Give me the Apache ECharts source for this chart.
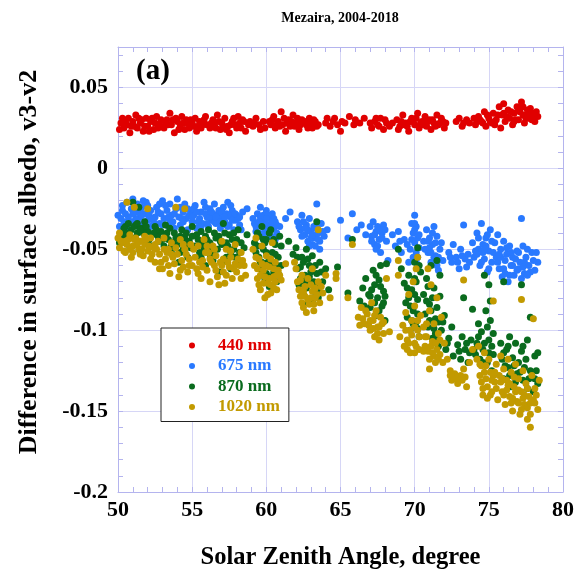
<!DOCTYPE html>
<html>
<head>
<meta charset="utf-8">
<script src="https://cdn.jsdelivr.net/npm/echarts@6/dist/echarts.min.js"></script>
<style>
  html, body { margin: 0; padding: 0; background: #fff; }
  #main { width: 577px; height: 575px; }
</style>
</head>
<body>
<div id="main"></div>
<script>
// Mezaira, 2004-2018 : v3 - v2 surface albedo difference vs solar zenith angle
var seriesNames = ["440 nm", "675 nm", "870 nm", "1020 nm"];
var xTicks = [50, 55, 60, 65, 70, 75, 80];
var yTicks = [-0.2, -0.15, -0.1, -0.05, 0, 0.05];

var nm440 = [
  [50.1,0.024],[50.3,0.031],[50.6,0.027],[50.8,0.022],[51.0,0.029],[51.2,0.033],[51.3,0.025],[51.5,0.028],[51.7,0.023],[51.9,0.031],
  [52.0,0.026],[52.2,0.029],[52.4,0.024],[52.6,0.032],[52.8,0.027],[53.1,0.025],[53.3,0.030],[53.5,0.034],[53.6,0.027],[53.8,0.022],
  [54.0,0.029],[54.2,0.026],[54.3,0.032],[54.5,0.024],[54.7,0.028],[54.9,0.030],[55.1,0.026],[55.3,0.023],[55.5,0.029],[55.7,0.027],
  [55.9,0.032],[56.2,0.025],[56.4,0.030],[56.5,0.027],[56.7,0.033],[56.9,0.024],[57.0,0.028],[57.2,0.031],[57.4,0.026],[57.5,0.022],
  [57.7,0.029],[57.9,0.027],[58.1,0.032],[58.3,0.025],[58.5,0.029],[58.8,0.027],[59.1,0.026],[59.3,0.031],[59.6,0.024],[59.8,0.029],
  [60.3,0.027],[60.5,0.032],[60.6,0.025],[60.8,0.029],[61.0,0.035],[61.1,0.027],[61.3,0.023],[61.5,0.030],[61.6,0.026],[61.8,0.033],
  [62.0,0.028],[62.2,0.024],[62.4,0.030],[62.7,0.027],[62.9,0.031],[63.1,0.025],[63.3,0.029],[63.5,0.027],[64.1,0.031],[64.3,0.026],
  [64.5,0.029],[64.8,0.027],[65.0,0.023],[65.3,0.028],[65.6,0.032],[65.9,0.027],[66.3,0.028],[66.6,0.031],[67.1,0.025],[67.3,0.029],
  [67.5,0.027],[67.7,0.031],[67.9,0.024],[68.1,0.028],[68.3,0.026],[68.8,0.030],[69.0,0.026],[69.2,0.033],[69.4,0.028],[69.6,0.023],
  [69.8,0.031],[70.0,0.027],[70.2,0.034],[70.3,0.025],[70.5,0.029],[70.7,0.032],[70.8,0.026],[71.0,0.030],[71.1,0.024],[71.3,0.028],
  [71.5,0.033],[71.6,0.027],[71.8,0.031],[72.0,0.025],[72.8,0.029],[73.0,0.031],[73.2,0.026],[73.5,0.030],[74.1,0.027],[74.3,0.032],
  [74.5,0.029],[74.7,0.035],[74.8,0.026],[75.0,0.031],[75.2,0.028],[75.3,0.034],[75.5,0.030],[75.7,0.038],[75.8,0.025],[75.9,0.033],
  [76.0,0.040],[76.1,0.029],[76.3,0.036],[76.4,0.031],[76.6,0.027],[76.7,0.034],[76.9,0.038],[77.0,0.030],[77.2,0.041],[77.3,0.033],
  [77.4,0.028],[77.6,0.036],[77.7,0.031],[77.9,0.034],[78.1,0.029],[78.3,0.032],
  [50.5,0.029],[51.1,0.026],[51.6,0.030],[52.1,0.023],[52.5,0.028],[53.4,0.027],[53.9,0.031],[54.4,0.028],[54.8,0.025],[55.2,0.031],
  [55.6,0.025],[56.3,0.028],[56.8,0.029],[57.3,0.024],[57.8,0.031],[58.2,0.028],[58.6,0.023],[60.4,0.030],[60.9,0.026],[61.2,0.031],
  [61.7,0.029],[62.1,0.031],[63.0,0.028],[67.4,0.031],[69.1,0.029],[69.5,0.026],[69.9,0.029],[70.6,0.027],[71.2,0.030],[71.7,0.028],
  [74.4,0.030],[74.9,0.033],[75.4,0.027],[76.2,0.032],[76.5,0.035],[76.8,0.030],[77.1,0.035],[77.5,0.031],[77.8,0.037],[78.0,0.033],
  [50.2,0.028],[50.4,0.025],[50.7,0.031],[50.9,0.026],[51.4,0.031],[51.8,0.026],[52.3,0.031],[52.7,0.025],[52.9,0.030],[53.2,0.028],
  [53.7,0.030],[54.1,0.024],[54.6,0.030],[55.0,0.028],[55.4,0.026],[55.8,0.030],[56.0,0.027],[56.6,0.025],[57.1,0.026],[57.6,0.027],
  [58.0,0.025],[58.4,0.030],[58.9,0.029],[59.2,0.028],[59.5,0.027],[59.9,0.025],[60.2,0.029],[60.7,0.027],[61.4,0.028],[61.9,0.026],
  [62.3,0.027],[62.6,0.029],[62.8,0.025],[63.2,0.030],[63.4,0.026],[64.0,0.028],[64.6,0.031],[65.1,0.029],[66.0,0.030],[67.0,0.028],
  [67.6,0.026],[68.0,0.030],[68.5,0.028],[68.9,0.024],[69.3,0.027],[69.7,0.029],[70.1,0.031],[70.4,0.028],[70.9,0.029],[71.4,0.026],
  [71.9,0.029],[72.1,0.028],[73.3,0.028],[73.7,0.028],[74.0,0.031],[74.2,0.029],[74.6,0.028],[75.1,0.029],[75.6,0.033],[76.0,0.034],
  [76.7,0.029],[77.0,0.036],[77.3,0.038],[77.6,0.033],[77.9,0.030],[78.2,0.035]
];

var nm675 = [
  [50.0,-0.029],[50.1,-0.036],[50.3,-0.026],[50.4,-0.033],[50.6,-0.021],[50.7,-0.030],[50.8,-0.038],[50.9,-0.025],[51.0,-0.019],[51.1,-0.033],
  [51.2,-0.027],[51.3,-0.022],[51.4,-0.036],[51.5,-0.030],[51.6,-0.024],[51.7,-0.034],[51.8,-0.028],[51.9,-0.021],[52.0,-0.032],[52.2,-0.026],
  [52.2,-0.036],[52.5,-0.030],[52.6,-0.024],[52.8,-0.034],[52.9,-0.028],[53.0,-0.020],[53.1,-0.031],[53.3,-0.026],[53.4,-0.036],[53.5,-0.022],
  [53.6,-0.029],[53.7,-0.033],[53.9,-0.025],[54.0,-0.019],[54.1,-0.030],[54.2,-0.035],[54.4,-0.027],[54.5,-0.022],[54.6,-0.031],[54.7,-0.038],
  [54.9,-0.026],[55.0,-0.033],[55.1,-0.029],[55.2,-0.023],[55.3,-0.037],[55.5,-0.031],[55.6,-0.027],[55.7,-0.034],[55.8,-0.021],[56.0,-0.030],
  [56.1,-0.036],[56.2,-0.025],[56.3,-0.032],[56.4,-0.028],[56.5,-0.022],[56.6,-0.034],[56.7,-0.029],[56.8,-0.026],[56.9,-0.037],[57.0,-0.031],
  [57.1,-0.024],[57.2,-0.033],[57.3,-0.028],[57.4,-0.021],[57.5,-0.035],[57.6,-0.030],[57.7,-0.026],[57.8,-0.038],[57.9,-0.032],[58.0,-0.029],
  [58.2,-0.035],[58.4,-0.027],[58.7,-0.025],[59.1,-0.031],[59.3,-0.036],[59.4,-0.028],[59.5,-0.040],[59.6,-0.024],[59.7,-0.033],[59.8,-0.029],
  [59.9,-0.038],[60.0,-0.026],[60.1,-0.035],[60.2,-0.031],[60.3,-0.042],[60.4,-0.028],[60.5,-0.037],[60.6,-0.033],[60.7,-0.040],[60.9,-0.036],
  [61.3,-0.031],[61.6,-0.027],[62.1,-0.033],[62.3,-0.038],[62.4,-0.029],[62.6,-0.041],[62.7,-0.035],[62.8,-0.045],[62.9,-0.031],[63.0,-0.039],
  [63.1,-0.047],[63.2,-0.036],[63.3,-0.043],[63.4,-0.022],[63.5,-0.040],[63.6,-0.050],[63.7,-0.034],[63.9,-0.042],[64.1,-0.038],[65.0,-0.032],
  [65.5,-0.043],[65.8,-0.028],[66.1,-0.038],[66.4,-0.035],[66.7,-0.041],[67.0,-0.036],[67.1,-0.042],[67.2,-0.033],[67.3,-0.047],[67.4,-0.039],
  [67.5,-0.036],[67.6,-0.044],[67.7,-0.052],[67.8,-0.040],[67.9,-0.035],[68.1,-0.045],[68.2,-0.057],[68.5,-0.041],[68.7,-0.048],[68.9,-0.039],
  [69.1,-0.052],[69.3,-0.044],[69.5,-0.047],[69.6,-0.058],[69.8,-0.034],[69.9,-0.040],[70.0,-0.029],[70.0,-0.046],[70.1,-0.036],[70.1,-0.052],
  [70.2,-0.043],[70.2,-0.060],[70.3,-0.049],[70.6,-0.045],[70.8,-0.038],[70.9,-0.052],[71.0,-0.043],[71.1,-0.058],[71.2,-0.047],[71.3,-0.036],
  [71.4,-0.054],[71.5,-0.042],[71.6,-0.063],[71.7,-0.050],[71.9,-0.057],[72.3,-0.052],[72.5,-0.058],[72.6,-0.047],[72.8,-0.055],[73.0,-0.062],
  [73.1,-0.050],[73.3,-0.035],[73.4,-0.056],[73.6,-0.053],[73.9,-0.046],[74.0,-0.055],[74.2,-0.040],[74.3,-0.050],[74.4,-0.060],[74.5,-0.034],
  [74.6,-0.047],[74.7,-0.056],[74.8,-0.043],[74.9,-0.064],[75.0,-0.051],[75.1,-0.038],[75.2,-0.058],[75.4,-0.046],[75.5,-0.055],[75.6,-0.041],
  [75.7,-0.062],[75.8,-0.050],[75.9,-0.067],[76.0,-0.045],[76.1,-0.057],[76.2,-0.053],[76.3,-0.070],[76.4,-0.048],[76.5,-0.060],[76.6,-0.055],
  [76.7,-0.066],[76.9,-0.051],[77.0,-0.062],[77.1,-0.058],[77.2,-0.031],[77.3,-0.048],[77.4,-0.065],[77.5,-0.055],[77.7,-0.060],[77.9,-0.052],
  [78.1,-0.063],[78.3,-0.058],
  [50.2,-0.031],[50.5,-0.028],[50.9,-0.033],[51.2,-0.031],[51.5,-0.026],[51.7,-0.020],[52.1,-0.029],[52.4,-0.033],[52.7,-0.027],[53.2,-0.023],
  [53.5,-0.032],[53.8,-0.028],[54.3,-0.031],[54.8,-0.029],[55.1,-0.025],[55.4,-0.033],[55.9,-0.028],[56.2,-0.030],[56.5,-0.033],[56.8,-0.031],
  [57.0,-0.027],[57.3,-0.035],[57.5,-0.029],[57.7,-0.032],[58.1,-0.031],[58.3,-0.038],[59.2,-0.034],[59.6,-0.030],[59.9,-0.034],[60.1,-0.029],
  [60.3,-0.036],[60.5,-0.031],[60.7,-0.035],[62.2,-0.036],[62.5,-0.033],[62.8,-0.038],[63.0,-0.043],[63.2,-0.041],[63.4,-0.037],[63.6,-0.045],
  [63.8,-0.039],[67.3,-0.041],[67.5,-0.048],[67.8,-0.043],[68.0,-0.038],[69.0,-0.045],[69.7,-0.050],[69.9,-0.055],[70.0,-0.038],[70.1,-0.058],
  [70.3,-0.041],[70.7,-0.050],[71.0,-0.049],[71.2,-0.040],[71.3,-0.055],[71.5,-0.060],[71.8,-0.046],[72.4,-0.055],[72.9,-0.058],[73.2,-0.054],
  [73.5,-0.061],[74.1,-0.051],[74.3,-0.043],[74.5,-0.058],[74.6,-0.052],[74.8,-0.048],[75.0,-0.062],[75.3,-0.052],[75.6,-0.058],[75.8,-0.055],
  [76.0,-0.062],[76.2,-0.049],[76.4,-0.066],[76.6,-0.060],[76.8,-0.056],[77.0,-0.052],[77.2,-0.068],[77.4,-0.058],[77.6,-0.050],[77.8,-0.064],
  [78.0,-0.057],
  [50.3,-0.023],[50.6,-0.035],[51.0,-0.028],[51.3,-0.032],[51.6,-0.029],[52.0,-0.023],[52.3,-0.031],[52.8,-0.022],[53.0,-0.035],[53.4,-0.030],
  [53.8,-0.037],[54.2,-0.024],[54.4,-0.033],[54.7,-0.025],[55.0,-0.030],[55.3,-0.027],[55.6,-0.036],[55.9,-0.024],[56.0,-0.034],[56.3,-0.027],
  [56.6,-0.030],[56.9,-0.033],[57.2,-0.030],[57.4,-0.036],[57.6,-0.023],[57.9,-0.028],[58.2,-0.030],[59.3,-0.039],[59.5,-0.033],[59.8,-0.041],
  [60.0,-0.031],[60.2,-0.038],[60.4,-0.033],[60.6,-0.044],[62.4,-0.042],[62.6,-0.037],[62.9,-0.048],[63.1,-0.041],[63.3,-0.048],[63.5,-0.044],
  [67.1,-0.045],[67.4,-0.050],[67.6,-0.038],[69.8,-0.044],[70.0,-0.034],[70.2,-0.055],[70.9,-0.045],[71.1,-0.052],[71.4,-0.046],[71.6,-0.055],
  [73.7,-0.058],[74.2,-0.053],[74.7,-0.050],[74.9,-0.041],[75.2,-0.045],[75.7,-0.053],[76.1,-0.065],[76.5,-0.052],[76.9,-0.063],[77.3,-0.061],
  [77.6,-0.066],[78.2,-0.052]
];

var nm870 = [
  [50.1,-0.046],[50.3,-0.040],[50.5,-0.036],[50.7,-0.034],[50.9,-0.038],[51.0,-0.021],[51.2,-0.035],[51.3,-0.040],[51.4,-0.024],[51.6,-0.037],
  [51.8,-0.033],[52.0,-0.039],[52.1,-0.044],[52.2,-0.048],[51.5,-0.052],[50.8,-0.049],[52.5,-0.036],[52.7,-0.042],[52.9,-0.039],[53.1,-0.048],
  [53.2,-0.035],[53.4,-0.044],[53.6,-0.052],[53.8,-0.040],[54.0,-0.047],[54.1,-0.058],[54.3,-0.038],[54.5,-0.043],[54.7,-0.055],[54.9,-0.049],
  [55.0,-0.036],[55.3,-0.041],[55.5,-0.052],[55.7,-0.046],[55.9,-0.060],[56.1,-0.038],[56.3,-0.049],[56.4,-0.057],[56.6,-0.043],[56.8,-0.064],
  [57.0,-0.047],[57.1,-0.034],[57.3,-0.055],[57.5,-0.041],[57.6,-0.062],[57.8,-0.050],[58.0,-0.044],[58.2,-0.058],[58.5,-0.049],[58.7,-0.041],
  [59.2,-0.046],[59.4,-0.040],[59.5,-0.055],[59.6,-0.062],[59.7,-0.036],[59.8,-0.050],[59.9,-0.068],[60.0,-0.044],[60.1,-0.058],[60.2,-0.073],
  [60.3,-0.038],[60.4,-0.052],[60.5,-0.064],[60.6,-0.047],[60.7,-0.070],[60.8,-0.055],[60.9,-0.042],[61.0,-0.060],[61.5,-0.045],[61.8,-0.053],
  [62.0,-0.049],[62.1,-0.062],[62.2,-0.072],[62.4,-0.055],[62.5,-0.078],[62.6,-0.066],[62.7,-0.050],[62.8,-0.083],[62.9,-0.060],[63.0,-0.071],
  [63.1,-0.054],[63.2,-0.076],[63.4,-0.033],[63.4,-0.065],[63.5,-0.080],[63.6,-0.058],[63.8,-0.070],[64.0,-0.062],[64.2,-0.075],[64.8,-0.061],
  [65.5,-0.077],[65.8,-0.044],[66.3,-0.082],[66.5,-0.074],[66.7,-0.068],[66.9,-0.078],[67.0,-0.086],[67.2,-0.063],[67.3,-0.072],[67.4,-0.091],
  [67.5,-0.080],[67.6,-0.069],[67.7,-0.060],[67.8,-0.085],[67.9,-0.076],[68.0,-0.094],[68.1,-0.059],[68.9,-0.050],[69.1,-0.062],[69.3,-0.071],
  [69.4,-0.083],[69.5,-0.092],[69.6,-0.066],[69.7,-0.100],[69.8,-0.075],[69.9,-0.088],[70.0,-0.058],[70.1,-0.095],[70.1,-0.070],[70.2,-0.049],
  [70.2,-0.081],[70.3,-0.104],[70.4,-0.064],[70.6,-0.078],[70.7,-0.090],[70.8,-0.068],[70.9,-0.098],[71.0,-0.084],[71.1,-0.060],[71.2,-0.105],
  [71.3,-0.074],[71.4,-0.093],[71.5,-0.057],[71.5,-0.086],[71.6,-0.110],[71.7,-0.079],[71.8,-0.100],[72.0,-0.091],[72.1,-0.112],[72.3,-0.105],
  [72.5,-0.098],[72.6,-0.116],[72.9,-0.109],[73.1,-0.118],[73.3,-0.080],[73.4,-0.112],[73.6,-0.120],[73.8,-0.106],[73.9,-0.087],[74.1,-0.115],
  [74.2,-0.108],[74.3,-0.096],[74.5,-0.101],[74.6,-0.112],[74.7,-0.066],[74.8,-0.088],[74.9,-0.120],[75.0,-0.072],[75.0,-0.106],[75.1,-0.094],
  [75.2,-0.125],[75.3,-0.115],[75.8,-0.108],[75.9,-0.118],[76.0,-0.070],[76.0,-0.130],[76.2,-0.112],[76.3,-0.123],[76.4,-0.104],[76.5,-0.135],
  [76.6,-0.117],[76.8,-0.108],[76.9,-0.127],[77.0,-0.120],[77.2,-0.072],[77.2,-0.113],[77.3,-0.131],[77.5,-0.118],[77.6,-0.106],[77.8,-0.092],
  [77.8,-0.125],[78.0,-0.138],[78.1,-0.116],[78.3,-0.114],[78.3,-0.133],
  [50.2,-0.043],[50.4,-0.037],[50.6,-0.041],[51.1,-0.036],[51.3,-0.034],[51.7,-0.040],[51.9,-0.036],[52.3,-0.041],[52.6,-0.038],[53.0,-0.044],
  [53.3,-0.040],[53.5,-0.037],[53.7,-0.046],[54.2,-0.042],[54.4,-0.050],[54.6,-0.040],[54.8,-0.045],[55.4,-0.044],[55.6,-0.039],[55.8,-0.049],
  [56.0,-0.044],[56.2,-0.053],[56.5,-0.040],[56.7,-0.050],[56.9,-0.045],[57.2,-0.040],[57.4,-0.048],[57.7,-0.044],[57.9,-0.055],[58.1,-0.038],
  [58.3,-0.046],[59.3,-0.052],[59.5,-0.042],[59.7,-0.058],[59.9,-0.046],[60.0,-0.065],[60.2,-0.040],[60.4,-0.060],[60.6,-0.053],[60.8,-0.065],
  [61.0,-0.048],[62.1,-0.055],[62.3,-0.068],[62.5,-0.058],[62.7,-0.074],[62.9,-0.067],[63.1,-0.082],[63.3,-0.060],[63.5,-0.073],[63.7,-0.064],
  [66.6,-0.085],[67.1,-0.075],[67.4,-0.066],[67.6,-0.088],[67.9,-0.083],[69.5,-0.074],[69.7,-0.085],[69.9,-0.096],[70.0,-0.078],[70.2,-0.090],
  [70.3,-0.060],[70.9,-0.073],[71.1,-0.088],[71.3,-0.099],[71.5,-0.106],[71.7,-0.066],[71.9,-0.095],[72.2,-0.108],[73.0,-0.113],[73.5,-0.108],
  [74.0,-0.112],[74.4,-0.118],[74.7,-0.108],[74.9,-0.098],[75.1,-0.082],[75.2,-0.110],[76.1,-0.122],[76.3,-0.110],[76.7,-0.122],[77.1,-0.126],
  [77.4,-0.123],[77.7,-0.130],[78.2,-0.125],
  [50.4,-0.044],[50.7,-0.040],[51.1,-0.043],[51.5,-0.038],[52.0,-0.046],[52.4,-0.040],[52.8,-0.045],[53.2,-0.042],[53.6,-0.048],[53.9,-0.043],
  [54.2,-0.052],[54.6,-0.047],[55.0,-0.042],[55.2,-0.048],[55.6,-0.055],[55.9,-0.042],[56.2,-0.046],[56.4,-0.051],[56.8,-0.042],[57.0,-0.058],
  [57.3,-0.046],[57.6,-0.052],[57.8,-0.040],[58.2,-0.052],[59.4,-0.048],[59.6,-0.058],[59.8,-0.044],[60.0,-0.052],[60.3,-0.067],[60.5,-0.044],
  [60.7,-0.060],[62.3,-0.061],[62.6,-0.070],[62.8,-0.056],[63.0,-0.064],[63.2,-0.070],[63.6,-0.077],[67.0,-0.079],[67.3,-0.083],[67.7,-0.073],
  [68.0,-0.079],[69.6,-0.080],[69.8,-0.094],[70.0,-0.068],[70.2,-0.099],[70.8,-0.082],[71.0,-0.094],[71.2,-0.080],[71.4,-0.102],[71.6,-0.095],
  [73.2,-0.104],[73.7,-0.114],[74.3,-0.104],[74.6,-0.120],[75.0,-0.114],[75.3,-0.102],[76.0,-0.114],[76.4,-0.128],[76.8,-0.132],[77.3,-0.110],
  [77.6,-0.136],[78.1,-0.130]
];

var nm1020 = [
  [50.0,-0.043],[50.1,-0.049],[50.3,-0.046],[50.5,-0.052],[50.6,-0.021],[50.7,-0.044],[50.8,-0.041],[50.9,-0.055],[51.0,-0.048],[51.1,-0.024],
  [51.2,-0.043],[51.4,-0.050],[51.5,-0.045],[51.7,-0.054],[51.8,-0.047],[52.0,-0.025],[52.0,-0.051],[52.2,-0.043],[52.4,-0.049],[52.5,-0.058],
  [52.7,-0.045],[52.8,-0.053],[53.0,-0.062],[53.1,-0.043],[53.2,-0.056],[53.4,-0.050],[53.5,-0.065],[53.6,-0.046],[53.8,-0.059],[53.9,-0.024],
  [54.0,-0.053],[54.1,-0.067],[54.2,-0.044],[54.4,-0.061],[54.5,-0.025],[54.5,-0.050],[54.7,-0.064],[54.8,-0.056],[54.9,-0.047],[55.2,-0.055],
  [55.3,-0.062],[55.4,-0.048],[55.6,-0.068],[55.7,-0.057],[55.8,-0.044],[56.0,-0.063],[56.1,-0.052],[56.2,-0.070],[56.4,-0.048],[56.5,-0.060],
  [56.6,-0.054],[56.7,-0.067],[56.9,-0.058],[57.0,-0.045],[57.1,-0.064],[57.2,-0.071],[57.3,-0.050],[57.5,-0.061],[57.6,-0.055],[57.7,-0.068],
  [57.9,-0.047],[58.0,-0.064],[58.1,-0.056],[58.3,-0.052],[58.5,-0.060],[58.6,-0.066],[59.1,-0.050],[59.2,-0.060],[59.3,-0.043],[59.4,-0.068],
  [59.5,-0.056],[59.6,-0.075],[59.7,-0.048],[59.8,-0.063],[59.9,-0.080],[60.0,-0.054],[60.1,-0.071],[60.2,-0.061],[60.3,-0.077],[60.4,-0.046],
  [60.5,-0.067],[60.6,-0.058],[60.7,-0.075],[60.8,-0.063],[61.0,-0.069],[61.3,-0.059],[61.9,-0.058],[62.0,-0.062],[62.1,-0.070],[62.3,-0.079],
  [62.4,-0.066],[62.5,-0.086],[62.6,-0.073],[62.7,-0.089],[62.8,-0.068],[63.0,-0.080],[63.1,-0.062],[63.2,-0.084],[63.3,-0.074],[63.5,-0.038],
  [63.5,-0.070],[63.6,-0.083],[63.8,-0.077],[64.0,-0.066],[64.3,-0.080],[64.7,-0.065],[64.7,-0.068],[65.5,-0.080],[65.8,-0.047],[66.2,-0.092],
  [66.4,-0.086],[66.6,-0.096],[66.8,-0.090],[67.0,-0.100],[67.1,-0.083],[67.2,-0.094],[67.3,-0.104],[67.4,-0.088],[67.5,-0.098],[67.6,-0.106],
  [67.7,-0.092],[67.9,-0.102],[68.1,-0.068],[68.3,-0.101],[68.9,-0.057],[68.9,-0.066],[69.0,-0.104],[69.2,-0.097],[69.3,-0.110],[69.4,-0.089],
  [69.5,-0.106],[69.6,-0.078],[69.7,-0.114],[69.8,-0.094],[69.9,-0.070],[70.0,-0.108],[70.0,-0.085],[70.1,-0.062],[70.2,-0.100],[70.2,-0.055],
  [70.3,-0.112],[70.4,-0.091],[70.6,-0.098],[70.7,-0.110],[70.8,-0.104],[70.9,-0.062],[71.0,-0.118],[71.0,-0.088],[71.1,-0.072],[71.2,-0.107],
  [71.3,-0.096],[71.4,-0.120],[71.5,-0.080],[71.6,-0.102],[71.7,-0.115],[71.8,-0.092],[72.0,-0.108],[72.2,-0.118],[72.4,-0.125],[72.4,-0.128],
  [72.5,-0.131],[72.7,-0.127],[72.9,-0.133],[73.1,-0.128],[73.3,-0.069],[73.3,-0.124],[73.5,-0.135],[73.7,-0.120],[73.9,-0.112],[74.2,-0.118],
  [74.3,-0.110],[74.4,-0.128],[74.5,-0.122],[74.6,-0.136],[74.7,-0.114],[74.8,-0.130],[74.9,-0.142],[75.0,-0.118],[75.1,-0.126],[75.2,-0.138],
  [75.3,-0.082],[75.4,-0.132],[75.5,-0.121],[75.6,-0.143],[75.7,-0.128],[75.8,-0.116],[75.9,-0.138],[76.0,-0.124],[76.1,-0.146],[76.2,-0.131],
  [76.3,-0.118],[76.4,-0.141],[76.5,-0.126],[76.6,-0.150],[76.7,-0.135],[76.8,-0.121],[76.9,-0.144],[77.0,-0.130],[77.1,-0.152],[77.2,-0.081],
  [77.2,-0.138],[77.3,-0.125],[77.4,-0.146],[77.5,-0.133],[77.6,-0.155],[77.7,-0.141],[77.8,-0.160],[77.9,-0.128],[78.0,-0.093],[78.1,-0.136],
  [78.3,-0.149],[78.4,-0.131],
  [50.2,-0.045],[50.4,-0.051],[50.6,-0.047],[51.0,-0.052],[51.3,-0.047],[51.6,-0.050],[51.9,-0.044],[52.1,-0.048],[52.3,-0.053],[52.6,-0.050],
  [52.9,-0.058],[53.3,-0.052],[53.7,-0.055],[54.3,-0.057],[54.6,-0.053],[55.0,-0.060],[55.5,-0.058],[55.9,-0.052],[56.3,-0.058],[56.6,-0.063],
  [57.0,-0.060],[57.4,-0.058],[57.8,-0.062],[58.2,-0.060],[58.4,-0.057],[59.4,-0.062],[59.6,-0.066],[59.8,-0.071],[60.0,-0.060],[60.2,-0.068],
  [60.3,-0.072],[60.5,-0.062],[60.6,-0.070],[60.9,-0.066],[62.2,-0.075],[62.4,-0.083],[62.6,-0.079],[62.9,-0.084],[63.1,-0.076],[63.3,-0.080],
  [63.7,-0.073],[66.5,-0.093],[66.9,-0.097],[67.2,-0.099],[67.5,-0.102],[67.8,-0.096],[69.4,-0.100],[69.6,-0.108],[69.8,-0.103],[70.0,-0.098],
  [70.1,-0.110],[70.3,-0.104],[70.7,-0.104],[70.9,-0.113],[71.1,-0.110],[71.3,-0.116],[71.5,-0.112],[71.7,-0.106],[71.9,-0.120],[72.6,-0.129],
  [73.2,-0.131],[74.5,-0.132],[74.7,-0.126],[74.9,-0.135],[75.1,-0.140],[75.3,-0.128],[75.5,-0.136],[75.8,-0.132],[76.0,-0.140],[76.2,-0.137],
  [76.4,-0.133],[76.6,-0.142],[76.8,-0.138],[77.0,-0.145],[77.2,-0.149],[77.4,-0.140],[77.6,-0.148],[77.8,-0.152],[78.0,-0.143],[78.2,-0.140],
  [50.1,-0.040],[50.5,-0.045],[50.8,-0.050],[51.1,-0.044],[51.5,-0.053],[51.8,-0.042],[52.2,-0.056],[52.5,-0.047],[52.8,-0.062],[53.1,-0.050],
  [53.4,-0.060],[53.6,-0.053],[53.9,-0.049],[54.2,-0.063],[54.4,-0.047],[54.8,-0.060],[55.1,-0.050],[55.4,-0.065],[55.7,-0.061],[56.0,-0.048],
  [56.2,-0.056],[56.5,-0.050],[56.8,-0.072],[57.1,-0.056],[57.3,-0.066],[57.6,-0.051],[57.9,-0.059],[58.3,-0.068],[59.3,-0.055],[59.5,-0.072],
  [59.7,-0.059],[59.9,-0.067],[60.1,-0.078],[60.3,-0.056],[60.5,-0.074],[60.7,-0.066],[62.3,-0.069],[62.5,-0.076],[62.8,-0.081],[63.0,-0.072],
  [63.2,-0.088],[63.4,-0.078],[66.3,-0.097],[66.7,-0.088],[67.0,-0.094],[67.3,-0.091],[67.6,-0.098],[67.9,-0.095],[69.5,-0.112],[69.7,-0.100],
  [70.0,-0.114],[70.2,-0.094],[70.6,-0.113],[70.8,-0.096],[71.0,-0.124],[71.2,-0.114],[71.4,-0.108],[71.6,-0.118],[72.8,-0.130],[73.4,-0.129],
  [74.4,-0.121],[74.6,-0.140],[74.8,-0.122],[75.2,-0.131],[75.4,-0.126],[75.9,-0.130],[76.3,-0.134],[76.5,-0.145],[76.7,-0.129],[77.0,-0.137],
  [77.3,-0.142],[77.6,-0.136],[77.8,-0.145],[78.1,-0.145]
];

var colors = ["#e00000", "#2979ff", "#0a6b1e", "#c29a00"];
var serif = '"Liberation Serif", "Times New Roman", serif';
var axisCol = "#b4b4ee";
var gridCol = "#d6d6f6";

var chartDom = document.getElementById("main");
var myChart = echarts.init(chartDom);

var tickStyle = { color: axisCol, width: 1 };
var boldLabel = { fontFamily: serif, fontWeight: "bold", fontSize: 22, color: "#000" };

var option = {
  animation: false,
  grid: { left: 118, right: 14, top: 47, bottom: 83 },
  graphic: [
    {
      type: "text", x: 340, y: 18,
      style: { text: "Mezaira, 2004-2018", font: "bold 14px " + serif, fill: "#000", align: "center", verticalAlign: "middle" }
    },
    {
      type: "text", x: 136, y: 72,
      style: { text: "(a)", font: "bold 29px " + serif, fill: "#000", align: "left", verticalAlign: "middle" }
    },
    {
      type: "text", x: 29, y: 262, rotation: Math.PI / 2,
      style: { text: "Difference in surface albedo, v3-v2", font: "bold 26px " + serif, fill: "#000", align: "center", verticalAlign: "middle" }
    }
  ],
  legend: {
    orient: "vertical",
    left: 161,
    top: 328,
    padding: [9, 9, 6, 28],
    itemGap: 3.5,
    itemWidth: 6,
    itemHeight: 6,
    icon: "circle",
    borderColor: "#222",
    borderWidth: 1,
    backgroundColor: "#fff",
    formatter: function (n) { return "{s|}" + n; },
    textStyle: {
      fontFamily: serif, fontWeight: "bold", fontSize: 17,
      rich: { s: { width: 18 } }
    },
    data: seriesNames.map(function (n, i) {
      return { name: n, textStyle: { color: colors[i] } };
    })
  },
  xAxis: [
    {
      type: "value", min: xTicks[0], max: xTicks[xTicks.length - 1], interval: 5,
      position: "bottom",
      name: "Solar Zenith Angle, degree",
      nameLocation: "middle", nameGap: 53,
      nameTextStyle: { fontFamily: serif, fontWeight: "bold", fontSize: 24.5, color: "#000" },
      axisLine: { show: true, onZero: false, lineStyle: tickStyle },
      axisTick: { show: true, inside: true, length: 5, lineStyle: tickStyle },
      minorTick: { show: true, splitNumber: 5, length: 5, lineStyle: tickStyle },
      splitLine: { show: true, lineStyle: { color: gridCol, width: 1 } },
      axisLabel: Object.assign({ margin: 7 }, boldLabel)
    },
    {
      type: "value", min: xTicks[0], max: xTicks[xTicks.length - 1], interval: 5,
      position: "top",
      axisLine: { show: true, onZero: false, lineStyle: tickStyle },
      axisTick: { show: true, inside: true, length: 5, lineStyle: tickStyle },
      minorTick: { show: true, splitNumber: 5, length: 5, lineStyle: tickStyle },
      splitLine: { show: false },
      axisLabel: { show: false }
    }
  ],
  yAxis: [
    {
      type: "value", min: yTicks[0], max: 0.075, interval: 0.05,
      position: "left",
      axisLine: { show: true, onZero: false, lineStyle: tickStyle },
      axisTick: { show: false },
      splitLine: { show: true, lineStyle: { color: gridCol, width: 1 } },
      axisLabel: Object.assign({
        margin: 10,
        formatter: function (v) {
          if (v > yTicks[yTicks.length - 1] + 0.001) return "";
          return String(+v.toFixed(2));
        }
      }, boldLabel)
    },
    {
      type: "value", min: yTicks[0], max: 0.075, interval: 0.01,
      position: "left",
      axisLine: { show: false },
      axisTick: { show: true, inside: true, length: 5, lineStyle: tickStyle },
      splitLine: { show: false },
      axisLabel: { show: false }
    },
    {
      type: "value", min: yTicks[0], max: 0.075, interval: 0.01,
      position: "right",
      axisLine: { show: true, onZero: false, lineStyle: tickStyle },
      axisTick: { show: true, inside: true, length: 5, lineStyle: tickStyle },
      splitLine: { show: false },
      axisLabel: { show: false }
    }
  ],
  series: [nm440, nm675, nm870, nm1020].map(function (d, i) {
    return {
      name: seriesNames[i],
      type: "scatter",
      xAxisIndex: 0,
      yAxisIndex: 0,
      symbol: "circle",
      symbolSize: 7,
      itemStyle: { color: colors[i], opacity: 1 },
      emphasis: { disabled: true },
      data: d
    };
  })
};

option && myChart.setOption(option);
</script>
</body>
</html>
